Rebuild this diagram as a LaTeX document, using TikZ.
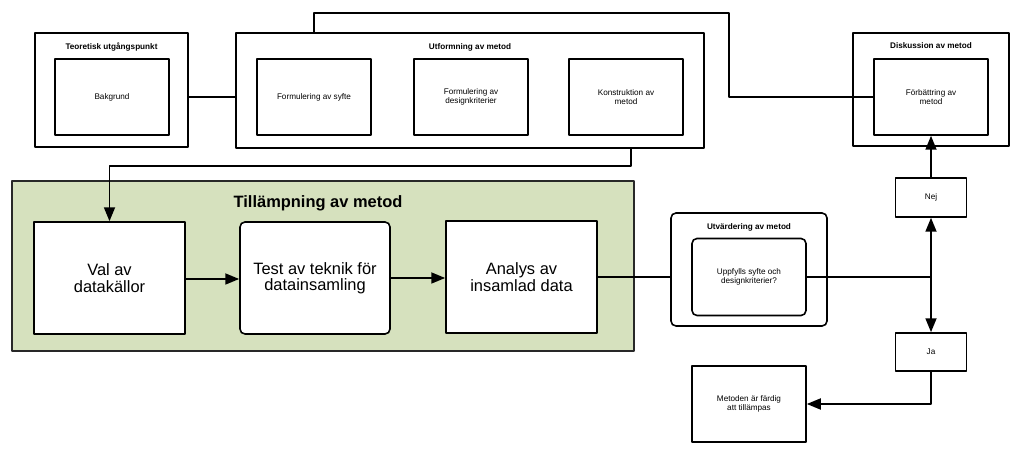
\documentclass[tikz,border=0pt]{standalone}
\usepackage{fontspec}
\setmainfont{Liberation Sans}
\usepackage{tikz}
\usetikzlibrary{arrows.meta}
\usetikzlibrary{positioning}
\definecolor{sagegreen}{RGB}{214,225,190}
\definecolor{darkline}{RGB}{40,40,40}

\begin{document}
\begin{tikzpicture}[line cap=round,line join=round, x=1bp, y=-1bp,
  frame/.style={draw, line width=1.6pt, inner sep=0pt},
  smallbox/.style={frame, align=center, font=\fontsize{8.2}{8.6}\selectfont},
  bigbox/.style={frame, align=center, font=\fontsize{16.5}{16.5}\selectfont},
  heading/.style={font=\fontsize{8.2}{9}\selectfont\bfseries},
  link/.style={line width=1.9pt},
  arrow/.style={link, -{Triangle[length=14pt, width=11pt]}}]
\useasboundingbox (0,0) rectangle (1024,451);
% top row
\node[frame, minimum width=153bp, minimum height=114bp] (teo) at (111.5,90) {};
\node[heading] (teotitle) at (111.5,47) {Teoretisk utgångspunkt};
\node[smallbox, minimum width=114bp, minimum height=76bp] (bak) at (112,97) {Bakgrund};
\node[frame, minimum width=468bp, minimum height=115bp] (utf) at (470,90.5) {};
\node[heading] (utftitle) at (470,47) {Utformning av metod};
\node[smallbox, minimum width=114bp, minimum height=76bp] (syfte) at (314,97) {Formulering av syfte};
\node[smallbox, minimum width=114bp, minimum height=76bp] (krit) at (471,97) {Formulering av\\designkriterier};
\node[smallbox, minimum width=114bp, minimum height=76bp] (konst) at (626,97) {Konstruktion av\\metod};
\node[frame, minimum width=156bp, minimum height=113bp] (disk) at (931,89.5) {};
\node[heading] (disktitle) at (931,46) {Diskussion av metod};
\node[smallbox, minimum width=114bp, minimum height=76bp] (forb) at (931,97) {Förbättring av\\metod};
% green block
\node[draw=darkline, line width=1.2pt, fill=sagegreen, minimum width=622bp, minimum height=170bp] (tilm) at (323,266) {};
\node[font=\fontsize{16.5}{17}\selectfont\bfseries] (tilmtitle) at (318,203) {Tillämpning av metod};
\node[bigbox, fill=white, minimum width=151bp, minimum height=112bp] (val) at (109.5,278) {Val av\\datakällor};
\node[bigbox, fill=white, rounded corners=5pt, minimum width=150bp, minimum height=112bp] (test) at (315,278) {Test av teknik för\\datainsamling};
\node[bigbox, fill=white, minimum width=151bp, minimum height=112bp] (analys) at (521.5,277) {Analys av\\insamlad data};
% evaluation
\node[frame, rounded corners=5pt, minimum width=156bp, minimum height=113bp] (utv) at (749,269.5) {};
\node[heading] (utvtitle) at (749,227) {Utvärdering av metod};
\node[smallbox, rounded corners=5pt, minimum width=114bp, minimum height=77bp] (uppf) at (749,277) {Uppfylls syfte och\\designkriterier?};
\node[smallbox, minimum width=71bp, minimum height=39bp] (nej) at (931,197.5) {Nej};
\node[smallbox, minimum width=71bp, minimum height=38bp] (ja) at (931,352) {Ja};
\node[smallbox, minimum width=114bp, minimum height=76bp] (klar) at (749,404) {Metoden är färdig\\att tillämpas};
% connectors
\coordinate (bend) at (729,13);
\coordinate (drop) at (631,166);
\coordinate (split) at (nej.south |- uppf.east);
\draw[link] (teo.east |- bak) -- (utf.west |- bak);
\draw[link] (syfte |- utf.north) |- (bend) |- (forb.west);
\draw[arrow] (drop |- utf.south) |- (drop) -| (val.north);
\draw[arrow] (val.east |- 0,279) -- (test.west |- 0,279);
\draw[arrow] (test.east |- 0,278) -- (analys.west |- 0,278);
\draw[link] (analys.east) -- (analys.east -| utv.west);
\draw[link] (uppf.east) -- (split);
\draw[arrow] (split) -- (nej.south);
\draw[arrow] (split) -- (ja.north);
\draw[arrow] (nej.north) -- (forb.south);
\draw[arrow] (ja.south) |- (klar.east);
\end{tikzpicture}
\end{document}
